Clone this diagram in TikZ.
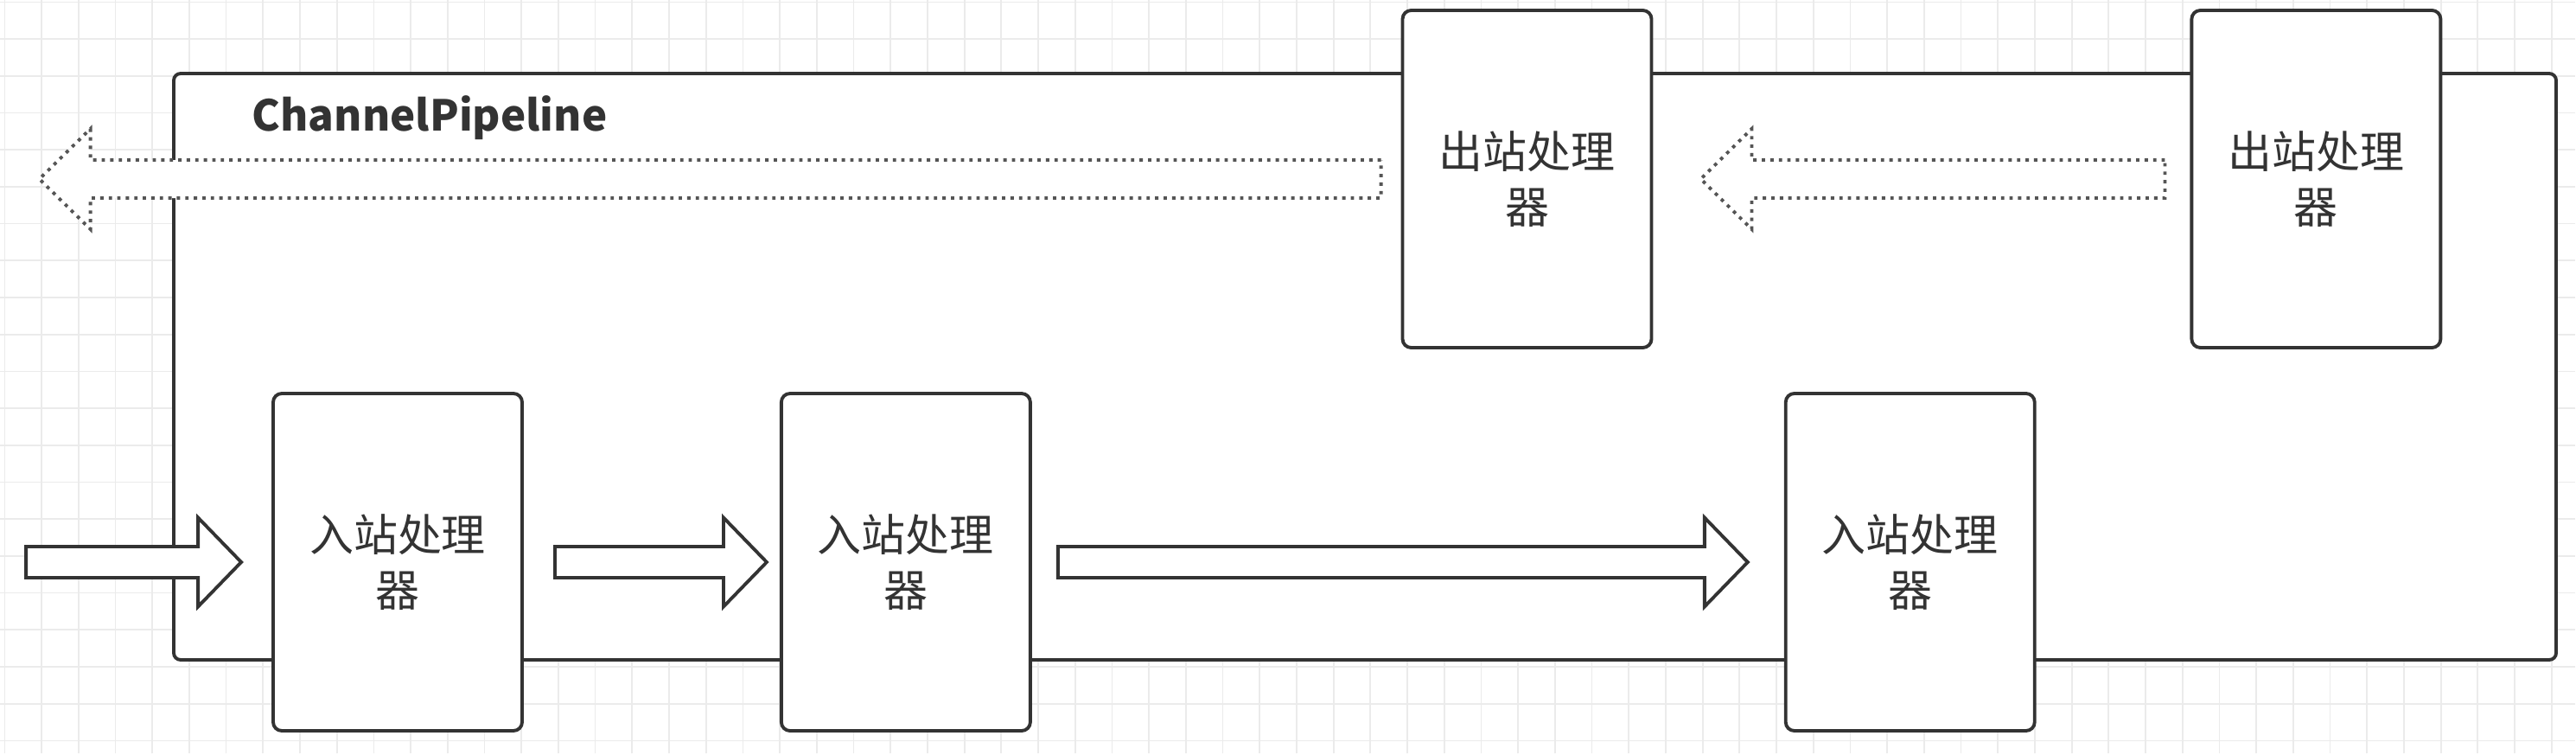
\documentclass[tikz,border=0pt]{standalone}
\usepackage{fontspec}
\usepackage{tikz}
\newfontfamily\cjk{Noto Sans CJK SC}
\definecolor{strokegray}{RGB}{51, 51, 51}
\definecolor{dotgray}{RGB}{85, 85, 85}
\definecolor{gridgray}{RGB}{235, 235, 235}
\usetikzlibrary{positioning, calc}

% block arrow: style, tail, tip, head length (signed), shaft half width, head half width
\newcommand{\fatarrow}[6][]{%
    \draw[#1] ($#2+(0,#5)$) -- ($#3+(#4,#5)$) -- ($#3+(#4,#6)$) -- ($#3$)
        -- ($#3+(#4,-#6)$) -- ($#3+(#4,-#5)$) -- ($#2+(0,-#5)$) -- cycle;}

\begin{document}
\begin{tikzpicture}[
    handler/.style={draw=strokegray, fill=white, line width=1.1pt, rounded corners=0.1cm,
        minimum width=2.88cm, minimum height=3.9cm, inner sep=0pt, align=center,
        text=strokegray, font=\cjk\fontsize{14.5}{18}\selectfont},
    pipe/.style={draw=strokegray, fill=white, line width=1.1pt, rounded corners=0.08cm,
        minimum width=27.56cm, minimum height=6.78cm},
    pipetitle/.style={inner sep=0pt, text=strokegray, font=\cjk\bfseries\fontsize{14}{17}\selectfont},
    inflow/.style={draw=strokegray, fill=white, line width=1.1pt},
    outflow/.style={draw=dotgray, fill=white, line width=1.1pt, dash pattern=on 1.1pt off 1.7pt}
]
    \useasboundingbox (0,0) rectangle (29.8,-8.72);
    \fill[white] (0,0) rectangle (29.8,-8.72);
    % background grid
    \draw[gridgray, line width=0.5pt, shift={(0.054,-0.024)}] (-0.05,0.02) grid[step=0.427] (29.74,-8.69);

    % pipeline frame
    \node[pipe] (pipeline) at (15.79,-4.24) {};
    \node[pipetitle, anchor=base west] (title) at ($(pipeline.north west)+(0.92,-0.68)$) {ChannelPipeline};

    % outbound handlers
    \node[handler] (out1) at (17.665,-2.07) {出站处理\\器};
    \node[handler, right=6.21cm of out1] (out2) {出站处理\\器};

    % inbound handlers
    \node[handler] (in1) at (4.60,-6.50) {入站处理\\器};
    \node[handler, right=2.96cm of in1] (in2) {入站处理\\器};
    \node[handler, right=8.70cm of in2] (in3) {入站处理\\器};

    \coordinate (inlet) at ($(in1.west)+(-2.84,0)$);
    \coordinate (outlet) at ($(out1.west)+(-15.75,0)$);

    % inbound flow
    \fatarrow[inflow]{(inlet)}{(in1.west)+(-0.35,0)}{-0.5}{0.18}{0.515}
    \fatarrow[inflow]{(in1.east)+(0.36,0)}{(in2.west)+(-0.15,0)}{-0.5}{0.18}{0.515}
    \fatarrow[inflow]{(in2.east)+(0.30,0)}{(in3.west)+(-0.42,0)}{-0.5}{0.18}{0.515}

    % outbound flow
    \fatarrow[outflow]{(out2.west)+(-0.29,0)}{(out1.east)+(0.55,0)}{0.59}{0.22}{0.58}
    \fatarrow[outflow]{(out1.west)+(-0.23,0)}{(outlet)}{0.59}{0.22}{0.58}
\end{tikzpicture}
\end{document}
